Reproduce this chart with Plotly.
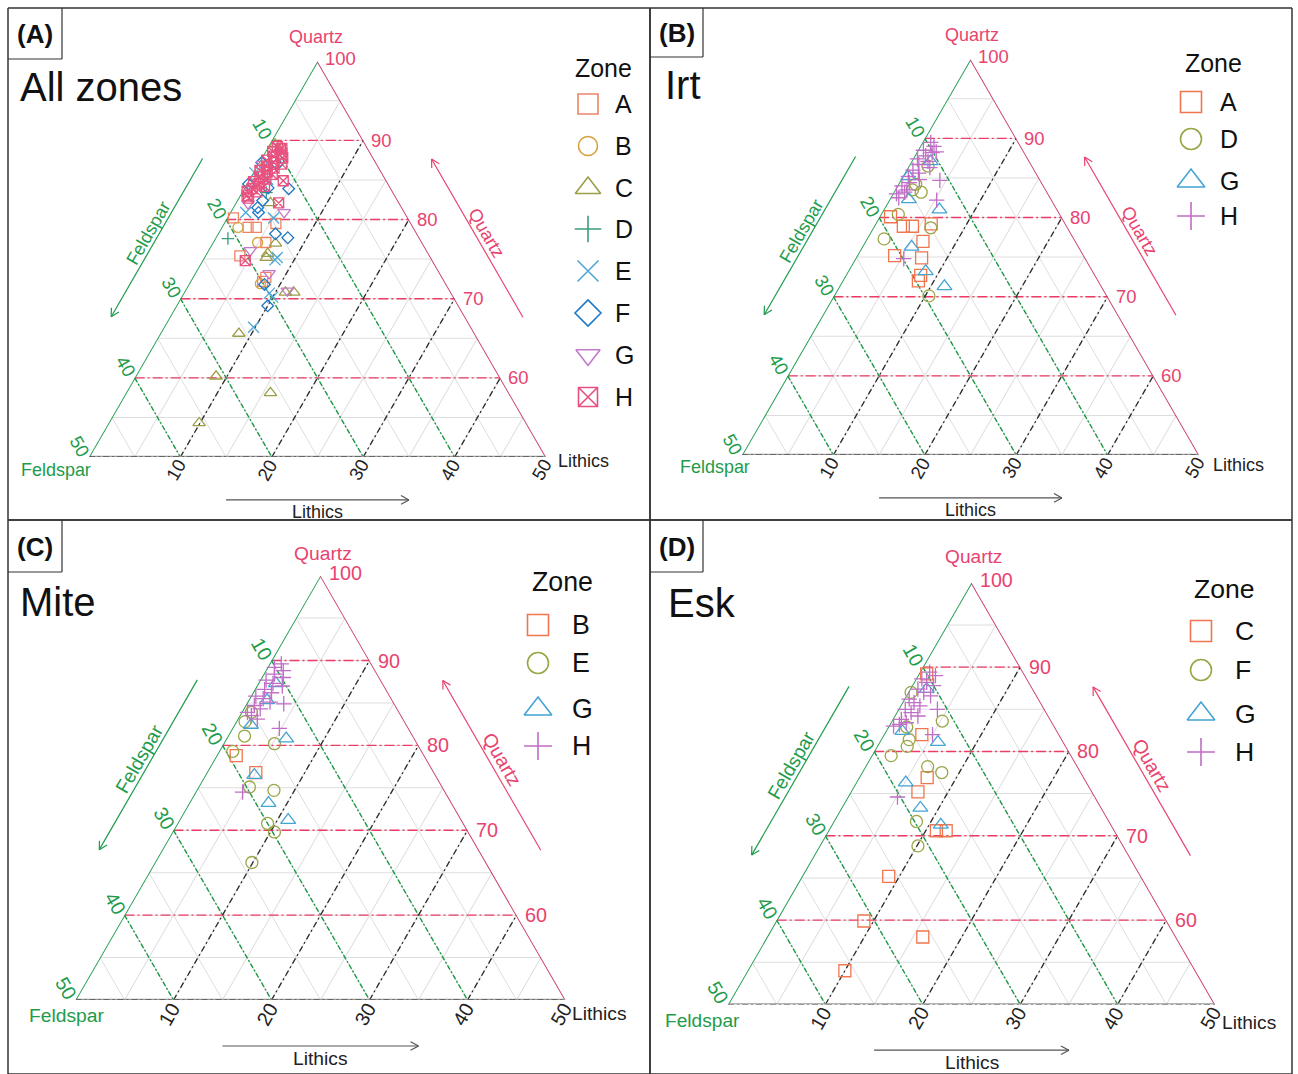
import math
import plotly.graph_objects as go

FIG_W, FIG_H = 1298, 1074
FONT = "Liberation Sans, Arial, Helvetica, sans-serif"
SQ3 = math.sqrt(3) / 2

PINK = "#E8436F"
GREEN = "#1E9B4B"
DARK = "#222222"

# ---------------------------------------------------------------
# Sample compositions, each row is [Quartz, Feldspar, Lithics] (%)
# ---------------------------------------------------------------
# All zones
all_A = [[80.2, 19.1, 0.7], [79.0, 18.1, 2.9], [79.0, 17.2, 3.8], [75.4, 20.8, 3.8],
         [77.1, 17.1, 5.8], [79.5, 14.8, 5.7], [72.7, 19.3, 8.0], [72.2, 19.9, 7.9]]
all_B = [[79.0, 19.2, 1.8], [77.1, 18.0, 4.9], [71.9, 20.3, 7.8], [86.8, 12.3, 0.9]]
all_C = [[89.5, 9.9, 0.6], [82.1, 14.1, 3.8], [77.0, 16.1, 6.9], [75.7, 17.6, 6.7],
         [75.2, 18.0, 6.8], [70.8, 18.1, 11.1], [70.8, 17.2, 12.0], [65.6, 25.8, 8.6],
         [60.2, 31.0, 8.8], [58.1, 26.1, 15.8], [54.3, 35.8, 9.9]]
all_D = [[83.4, 13.9, 2.7], [77.6, 21.0, 1.4], [85.1, 13.9, 1.0]]
all_E = [[80.2, 14.7, 5.1], [80.9, 17.4, 1.7], [85.1, 12.9, 2.0], [75.2, 16.8, 8.0],
         [74.9, 17.2, 7.9], [70.7, 19.9, 9.4], [70.2, 19.8, 10.0], [66.4, 23.8, 9.8],
         [85.9, 13.9, 0.2]]
all_F = [[87.2, 12.5, 0.3], [87.0, 10.9, 2.1], [83.9, 11.2, 4.9], [84.0, 13.4, 2.6],
         [81.5, 15.8, 2.7], [80.9, 16.0, 3.1], [78.2, 15.5, 6.3], [77.7, 14.4, 7.9],
         [71.8, 19.9, 8.3], [69.1, 20.9, 10.0], [84.5, 15.3, 0.2], [82.4, 14.8, 2.8]]
all_G = [[80.9, 13.2, 5.9], [82.0, 16.6, 1.4], [76.1, 19.3, 4.6], [73.2, 18.7, 8.1],
         [71.0, 17.8, 11.2], [87.0, 12.5, 0.5]]
all_H = [[89.2, 9.8, 1.0], [89.0, 9.4, 1.6], [88.6, 10.6, 0.8], [88.4, 9.7, 1.9],
         [88.0, 10.8, 1.2], [87.8, 9.9, 2.3], [87.5, 11.8, 0.7], [87.2, 11.2, 1.6],
         [87.0, 10.4, 2.6], [86.7, 12.2, 1.1], [86.5, 11.5, 2.0], [86.2, 13.2, 0.6],
         [86.0, 12.5, 1.5], [85.7, 12.1, 2.2], [85.4, 13.6, 1.0], [85.1, 13.1, 1.8],
         [84.8, 14.6, 0.6], [84.5, 14.1, 1.4], [84.2, 13.7, 2.1], [83.9, 15.2, 0.9],
         [83.5, 14.9, 1.6], [83.0, 16.2, 0.8], [84.9, 11.3, 3.8], [82.1, 13.2, 4.7],
         [83.6, 15.9, 0.5], [82.7, 16.2, 1.1], [74.8, 20.5, 4.7], [88.9, 9.6, 1.5]]

# Irt
irt_A = [[80.1, 18.7, 1.2], [78.9, 17.9, 3.2], [78.9, 16.9, 4.2], [77.0, 16.7, 6.3],
         [75.2, 20.7, 4.1], [74.9, 17.9, 7.2], [72.7, 19.1, 8.2], [72.0, 19.7, 8.3],
         [79.2, 14.7, 6.1]]
irt_D = [[86.5, 11.4, 2.1], [83.2, 13.8, 3.0], [83.5, 14.6, 1.9], [80.4, 17.7, 1.9],
         [78.7, 15.0, 6.3], [77.3, 20.8, 1.9], [70.1, 19.5, 10.4], [84.2, 13.9, 1.9]]
irt_G = [[81.0, 12.9, 6.1], [82.3, 15.6, 2.1], [76.3, 18.3, 5.4], [73.2, 18.3, 8.5],
         [71.3, 17.2, 11.5], [87.1, 10.8, 2.1], [85.2, 14.2, 0.6]]
irt_H = [[89.5, 9.6, 0.9], [89.0, 9.5, 1.5], [88.5, 10.9, 0.6], [88.3, 9.6, 2.1],
         [87.8, 11.0, 1.2], [87.4, 12.1, 0.5], [87.1, 11.1, 1.8], [86.7, 12.3, 1.0],
         [86.3, 11.3, 2.4], [86.0, 13.3, 0.7], [85.6, 12.9, 1.5], [85.2, 14.2, 0.6],
         [84.8, 13.2, 2.0], [84.4, 14.5, 1.1], [84.0, 15.5, 0.5], [83.5, 15.2, 1.3],
         [83.0, 16.6, 0.4], [82.5, 16.6, 0.9], [84.7, 11.0, 4.3], [82.2, 12.6, 5.2],
         [83.2, 15.6, 1.2], [74.8, 19.9, 5.3], [88.2, 10.1, 1.7]]

# Mite
mite_B = [[78.8, 19.2, 2.0], [76.8, 18.2, 5.0]]
mite_E = [[83.9, 15.1, 1.0], [82.8, 16.3, 0.9], [81.1, 17.2, 1.7], [80.2, 14.6, 5.2],
          [79.3, 19.3, 1.4], [75.1, 19.7, 5.2], [74.7, 17.4, 7.9], [70.8, 20.0, 9.2],
          [69.8, 19.8, 10.4], [66.2, 23.9, 9.9]]
mite_G = [[87.3, 10.9, 1.8], [82.4, 15.9, 1.7], [80.8, 13.1, 6.1], [76.5, 18.5, 5.0],
          [73.2, 18.7, 8.1], [71.2, 17.7, 11.1], [85.3, 12.8, 1.9]]
mite_H = [[89.6, 9.2, 1.2], [89.2, 10.1, 0.7], [88.8, 9.4, 1.8], [88.4, 10.5, 1.1],
          [88.0, 9.8, 2.2], [87.7, 11.7, 0.6], [87.3, 11.2, 1.5], [87.0, 10.4, 2.6],
          [86.6, 12.4, 1.0], [86.2, 11.9, 1.9], [85.8, 13.7, 0.5], [85.5, 13.1, 1.4],
          [85.1, 12.6, 2.3], [84.7, 14.4, 0.9], [84.3, 14.0, 1.7], [83.9, 15.5, 0.6],
          [83.5, 15.3, 1.2], [83.1, 14.9, 2.0], [84.9, 11.3, 3.8], [82.0, 13.2, 4.8],
          [74.5, 20.7, 4.8]]

# Esk
esk_C = [[82.0, 14.1, 3.9], [76.9, 16.1, 7.0], [75.2, 17.9, 6.9], [70.6, 18.3, 11.1],
         [70.6, 17.3, 12.1], [65.2, 25.9, 8.9], [59.9, 31.1, 9.0], [58.0, 26.0, 16.0],
         [54.0, 36.0, 10.0], [89.2, 10.0, 0.8]]
esk_F = [[87.0, 12.7, 0.3], [83.6, 11.2, 5.2], [81.4, 15.7, 2.9], [80.6, 16.3, 3.1],
         [79.5, 18.5, 2.0], [78.2, 15.4, 6.4], [77.5, 14.3, 8.2], [71.7, 19.8, 8.5],
         [68.8, 21.1, 10.1], [82.9, 15.2, 1.9]]
esk_G = [[82.4, 15.9, 1.7], [81.1, 12.9, 6.0], [76.3, 18.6, 5.1], [73.3, 18.6, 8.1],
         [71.3, 17.5, 11.2], [87.4, 10.9, 1.7]]
esk_H = [[89.4, 9.6, 1.0], [89.0, 9.2, 1.8], [88.6, 10.8, 0.6], [88.2, 10.5, 1.3],
         [87.8, 10.0, 2.2], [87.4, 11.8, 0.8], [87.0, 11.4, 1.6], [86.6, 10.9, 2.5],
         [86.2, 13.3, 0.5], [85.8, 13.0, 1.2], [85.4, 12.6, 2.0], [85.0, 14.3, 0.7],
         [84.6, 13.9, 1.5], [84.2, 13.4, 2.4], [83.8, 15.3, 0.9], [83.4, 15.0, 1.6],
         [83.0, 16.5, 0.5], [85.0, 11.0, 4.0], [82.0, 13.0, 5.0], [74.6, 20.3, 5.1],
         [83.2, 15.8, 1.0]]

QUARTZ_TICKS = [60, 70, 80, 90, 100]
FELDSPAR_TICKS = [10, 20, 30, 40, 50]
LITHICS_TICKS = [10, 20, 30, 40, 50]

# symbol, colour, marker size, legend key size
STYLE8 = [("square-open", "#EF8465", 10, 20), ("circle-open", "#D7A13F", 10, 19),
          ("triangle-up-open", "#9C9E4A", 11, 22), ("cross-thin-open", "#3B9C7E", 9, 19),
          ("x-thin-open", "#4FA7D8", 11, 21), ("diamond-open", "#1E78C6", 9, 20),
          ("triangle-down-open", "#C47ACB", 11, 21), ("square-x-open", "#E8517F", 10, 19)]
STYLE4 = [("square-open", "#F0764F", 12, 21), ("circle-open", "#9AA646", 12, 21),
          ("triangle-up-open", "#44A4D2", 13, 24), ("cross-thin-open", "#C06EC6", 11, 20)]

PANELS = [
    dict(sub="ternary", x0=89, yb=457, w=457, tag="(A)", title="All zones",
         frame=(8, 8, 650, 520), tagbox=(8, 8, 62, 59), title_xy=(18, 87),
         series=[("A", all_A), ("B", all_B), ("C", all_C), ("D", all_D),
                 ("E", all_E), ("F", all_F), ("G", all_G), ("H", all_H)],
         styles=STYLE8, zone_xy=(603, 68), key_x=588, key_tx=613,
         key_y=[104, 146, 188, 229, 271, 313, 355, 397],
         q_off=(-2, -24), f_off=(-33, 13), l_off=(10, 4)),
    dict(sub="ternary2", x0=742, yb=455, w=457, tag="(B)", title="Irt",
         frame=(650, 8, 1292, 520), tagbox=(650, 8, 703, 57), title_xy=(663, 85),
         series=[("A", irt_A), ("D", irt_D), ("G", irt_G), ("H", irt_H)],
         styles=STYLE4, zone_xy=(1213, 63), key_x=1191, key_tx=1218,
         key_y=[102, 139, 181, 216],
         q_off=(1, -24), f_off=(-27, 12), l_off=(12, 10)),
    dict(sub="ternary3", x0=75.5, yb=1000, w=490, tag="(C)", title="Mite",
         frame=(8, 520, 650, 1074), tagbox=(8, 520, 62, 572), title_xy=(18, 602),
         series=[("B", mite_B), ("E", mite_E), ("G", mite_G), ("H", mite_H)],
         styles=STYLE4, zone_xy=(562, 582), key_x=538, key_tx=570,
         key_y=[625, 663, 709, 746],
         q_off=(2, -22), f_off=(-9, 15), l_off=(4, 13)),
    dict(sub="ternary4", x0=728, yb=1004.5, w=487, tag="(D)", title="Esk",
         frame=(650, 520, 1292, 1074), tagbox=(650, 520, 703, 572), title_xy=(666, 603),
         series=[("C", esk_C), ("F", esk_F), ("G", esk_G), ("H", esk_H)],
         styles=STYLE4, zone_xy=(1224, 589), key_x=1201, key_tx=1233,
         key_y=[631, 670, 714, 752],
         q_off=(2, -26), f_off=(-26, 16), l_off=(5, 18)),
]


def to_paper(x, y):
    return x / FIG_W, 1 - y / FIG_H


def tern_px(p, q, f, l):
    """Pixel position of a (Quartz, Feldspar, Lithics) composition in panel p."""
    s = q + f + l
    q, l = 100 * q / s, 100 * l / s
    h = p["w"] * SQ3
    x = p["x0"] + p["w"] * l / 50 + p["w"] / 2 * (q - 50) / 50
    y = p["yb"] - h * (q - 50) / 50
    return x, y


def text(x, y, s, size, color=DARK, angle=0, xanchor="center", bold=False):
    px, py = to_paper(x, y)
    return dict(x=px, y=py, xref="paper", yref="paper", text=f"<b>{s}</b>" if bold else s,
                showarrow=False, textangle=angle, xanchor=xanchor, yanchor="middle",
                font=dict(family=FONT, size=size, color=color))


def seg(x1, y1, x2, y2, color, width=1.2):
    a, b = to_paper(x1, y1)
    c, d = to_paper(x2, y2)
    return dict(type="line", xref="paper", yref="paper", x0=a, y0=b, x1=c, y1=d,
                line=dict(color=color, width=width))


def arrow(x1, y1, x2, y2, color):
    out = [seg(x1, y1, x2, y2, color)]
    L = math.hypot(x2 - x1, y2 - y1)
    ux, uy = (x1 - x2) / L, (y1 - y2) / L
    for ang in (0.5, -0.5):
        ca, sa = math.cos(ang), math.sin(ang)
        bx, by = ux * ca - uy * sa, ux * sa + uy * ca
        out.append(seg(x2, y2, x2 + 9 * bx, y2 + 9 * by, color))
    return out


fig = go.Figure()
shapes, annotations = [], []
layout_tern = {}

for p in PANELS:
    sub = p["sub"]
    w = p["w"]
    h = w * SQ3
    k = w / 458
    dx0, dx1 = p["x0"] / FIG_W, (p["x0"] + w) / FIG_W
    dy0, dy1 = 1 - p["yb"] / FIG_H, 1 - (p["yb"] - h) / FIG_H
    minor = dict(showgrid=True, gridcolor="#dedede", gridwidth=1, tickmode="linear",
                 tick0=0, dtick=5, showticklabels=False, ticks="", showline=False,
                 title=dict(text=""))
    layout_tern[sub] = dict(sum=100, bgcolor="rgba(0,0,0,0)",
                            domain=dict(x=[dx0, dx1], y=[dy0, dy1]),
                            aaxis=dict(min=50, **minor), baxis=dict(min=0, **minor),
                            caxis=dict(min=0, **minor))

    def tline(a, b, c, color, width, dash="solid"):
        fig.add_trace(go.Scatterternary(a=a, b=b, c=c, mode="lines", subplot=sub,
                                        line=dict(color=color, width=width, dash=dash),
                                        cliponaxis=False, hoverinfo="skip", showlegend=False))

    # major grid: constant quartz, feldspar, lithics
    qa, qb, qc = [], [], []
    for q in QUARTZ_TICKS[:-1]:
        qa += [q, q, None]; qb += [100 - q, 0, None]; qc += [0, 100 - q, None]
    tline(qa, qb, qc, "#EE3B64", 1.4, "10px,3px,2px,3px")
    fa, fb, fc = [], [], []
    for f in FELDSPAR_TICKS[:-1]:
        fa += [100 - f, 50, None]; fb += [f, f, None]; fc += [0, 50 - f, None]
    tline(fa, fb, fc, "#1A9A45", 1.4, "5px,2px,2px,2px")
    la, lb, lc = [], [], []
    for l in LITHICS_TICKS[:-1]:
        la += [50, 100 - l, None]; lb += [50 - l, 0, None]; lc += [l, l, None]
    tline(la, lb, lc, "#2b2b2b", 1.3, "6px,3px,2px,3px")

    # triangle edges
    tline([100, 50], [0, 50], [0, 0], GREEN, 1.8)
    tline([100, 50], [0, 0], [0, 50], "#C93868", 1.8)
    tline([50, 50], [50, 0], [0, 50], "#9a9a9a", 2.5)
    tline([50, 50], [50, 0], [0, 50], "#333333", 1.1, "6px,3px,2px,3px")

    # samples
    for (zone, rows), (sym, col, size, _) in zip(p["series"], p["styles"]):
        fig.add_trace(go.Scatterternary(
            a=[r[0] for r in rows], b=[r[1] for r in rows], c=[r[2] for r in rows],
            mode="markers", subplot=sub, name=zone, cliponaxis=False, showlegend=False,
            marker=dict(symbol=sym, size=size, color=col, line=dict(color=col, width=1.3))))

    # tick labels
    for q in QUARTZ_TICKS:
        x, y = tern_px(p, q, 0, 100 - q)
        annotations.append(text(x + 6 * k, y - (3 if q == 100 else 0), str(q), 18.5 * k, PINK,
                                xanchor="left"))
    for f in FELDSPAR_TICKS:
        x, y = tern_px(p, 100 - f, f, 0)
        annotations.append(text(x - 9 * k, y - 11 * k, str(f), 18.5 * k, GREEN, angle=60))
    for l in LITHICS_TICKS:
        x, y = tern_px(p, 50, 50 - l, l)
        annotations.append(text(x - 4 * k, y + 13 * k, str(l), 18.5 * k, DARK, angle=-60))

    # vertex titles
    tx, ty = tern_px(p, 100, 0, 0)
    annotations.append(text(tx + p["q_off"][0], ty + p["q_off"][1], "Quartz", 18 * k, PINK))
    lx, ly = tern_px(p, 50, 50, 0)
    annotations.append(text(lx + p["f_off"][0], ly + p["f_off"][1], "Feldspar", 18 * k, GREEN))
    rx, ry = tern_px(p, 50, 0, 50)
    annotations.append(text(rx + p["l_off"][0], ry + p["l_off"][1], "Lithics", 18 * k, DARK,
                            xanchor="left"))

    # direction arrows beside the edges
    def along_left(t, d):
        return lx + (tx - lx) * t - SQ3 * d, ly + (ty - ly) * t - 0.5 * d

    def along_right(t, d):
        return rx + (tx - rx) * t + SQ3 * d, ry + (ty - ry) * t - 0.5 * d

    a1, a2 = along_left(0.69, 51 * k), along_left(0.29, 51 * k)
    shapes += arrow(*a1, *a2, GREEN)
    annotations.append(text(*along_left(0.49, 61 * k), "Feldspar", 18 * k, GREEN, angle=-60))
    b1, b2 = along_right(0.29, 50 * k), along_right(0.69, 50 * k)
    shapes += arrow(*b1, *b2, PINK)
    annotations.append(text(*along_right(0.49, 61 * k), "Quartz", 18 * k, PINK, angle=60))
    ay = ly + 43 * k
    shapes += arrow(lx + 0.30 * w, ay, lx + 0.70 * w, ay, "#555555")
    annotations.append(text(lx + 0.5 * w, ly + 55 * k, "Lithics", 18 * k, DARK))

    # frame, tag and title
    x0f, y0f, x1f, y1f = p["frame"]
    shapes += [seg(x0f, y0f, x1f, y0f, "#333333", 1.5), seg(x0f, y0f, x0f, y1f, "#333333", 1.5),
               seg(x1f, y0f, x1f, y1f, "#333333", 1.5), seg(x0f, y1f, x1f, y1f, "#333333", 1.5)]
    bx0, by0, bx1, by1 = p["tagbox"]
    shapes += [seg(bx1, by0, bx1, by1, "#333333", 1.2), seg(bx0, by1, bx1, by1, "#333333", 1.2)]
    annotations.append(text((bx0 + bx1) / 2, (by0 + by1) / 2 + 1, p["tag"], 26, "#111111", bold=True))
    annotations.append(text(p["title_xy"][0], p["title_xy"][1], p["title"], 40, "#111111",
                            xanchor="left"))

    # zone key
    annotations.append(text(p["zone_xy"][0], p["zone_xy"][1], "Zone", 25 * k, "#111111"))
    for (zone, _), (sym, col, _, ksize), ky in zip(p["series"], p["styles"], p["key_y"]):
        fig.add_trace(go.Scatter(x=[p["key_x"]], y=[ky], mode="markers", showlegend=False,
                                 hoverinfo="skip",
                                 marker=dict(symbol=sym, size=ksize, color=col,
                                             line=dict(color=col, width=1.6))))
        annotations.append(text(p["key_tx"], ky, zone, 25 * k, "#111111", xanchor="left"))

fig.update_layout(
    width=FIG_W, height=FIG_H, template="none",
    margin=dict(l=0, r=0, t=0, b=0),
    paper_bgcolor="white", plot_bgcolor="rgba(0,0,0,0)",
    font=dict(family=FONT),
    xaxis=dict(domain=[0, 1], range=[0, FIG_W], visible=False, fixedrange=True),
    yaxis=dict(domain=[0, 1], range=[FIG_H, 0], visible=False, fixedrange=True),
    shapes=shapes, annotations=annotations, showlegend=False,
    **layout_tern,
)

fig.write_html("out.html")
